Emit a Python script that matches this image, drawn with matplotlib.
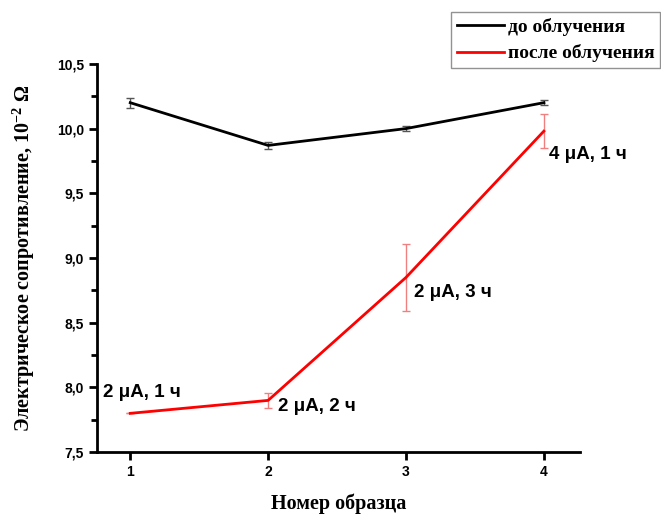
import numpy as np
import matplotlib
matplotlib.use("Agg")
import matplotlib.pyplot as plt
from matplotlib.lines import Line2D
from matplotlib.ticker import MultipleLocator, FormatStrFormatter

# data
samples = [1, 2, 3, 4]
before = [10.20, 9.87, 10.00, 10.20]
before_err = [0.04, 0.03, 0.02, 0.02]
after = [7.80, 7.90, 8.85, 9.98]
after_err = [0.0, 0.06, 0.26, 0.13]
labels = ["2 μA, 1 ч", "2 μA, 2 ч", "2 μA, 3 ч", "4 μA, 1 ч"]
label_offsets = [(-0.2, 0.16), (0.07, -0.05), (0.06, -0.12), (0.04, -0.18)]

serif = "Liberation Serif"
sans = "Liberation Sans"
plt.rcParams["mathtext.fontset"] = "custom"
plt.rcParams["mathtext.rm"] = "Liberation Serif:bold"
plt.rcParams["mathtext.default"] = "rm"

fig = plt.figure(figsize=(6.61, 5.15), dpi=100)
ax = fig.add_axes([0.147, 0.122, 0.730, 0.754])

ax.errorbar(samples, before, yerr=before_err, color="black", lw=2,
            ecolor="#555555", elinewidth=1, capsize=3)
ax.errorbar(samples, after, yerr=after_err, color="#ff0000", lw=2,
            ecolor="#f08080", elinewidth=1, capsize=3)

for x, y, t, (dx, dy) in zip(samples, after, labels, label_offsets):
    ax.text(x + dx, y + dy, t, fontsize=13.5, fontweight="bold", family=sans,
            va="center", ha="left")

ax.set_xlim(0.76, 4.26)
ax.set_ylim(7.5, 10.5)
ax.set_xticks(samples)
ax.yaxis.set_major_locator(MultipleLocator(0.5))
ax.yaxis.set_minor_locator(MultipleLocator(0.25))
ax.yaxis.set_major_formatter(FormatStrFormatter("%.1f"))
fig.canvas.draw()
ax.set_yticklabels([t.get_text().replace(".", ",") for t in ax.get_yticklabels()])

for s in ["top", "right"]:
    ax.spines[s].set_visible(False)
ax.spines["left"].set_linewidth(2)
ax.spines["bottom"].set_linewidth(2)
ax.tick_params(axis="both", which="major", length=6, width=2, direction="out")
ax.tick_params(axis="y", which="minor", length=4, width=2, direction="out")
for t in ax.get_xticklabels() + ax.get_yticklabels():
    t.set_fontfamily(sans)
    t.set_fontweight("bold")
    t.set_fontsize(10)

ax.set_xlabel("Номер образца", family=serif, fontweight="bold", fontsize=14.5, labelpad=10)
ax.set_ylabel("Электрическое сопротивление, 10$^{-2}$ Ω", family=serif,
              fontweight="bold", fontsize=14.5, labelpad=14)

handles = [Line2D([], [], color="black", lw=2), Line2D([], [], color="#ff0000", lw=2)]
leg = ax.legend(handles, ["до облучения", "после облучения"], loc="upper left",
                bbox_to_anchor=(0.734, 1.134),
                prop={"family": serif, "weight": "bold", "size": 14},
                frameon=True, fancybox=False, edgecolor="#777777",
                handlelength=2.4, handletextpad=0.2, borderpad=0.3,
                labelspacing=0.45, borderaxespad=0)
leg.get_frame().set_linewidth(1)

fig.savefig("out.png", dpi=100)
